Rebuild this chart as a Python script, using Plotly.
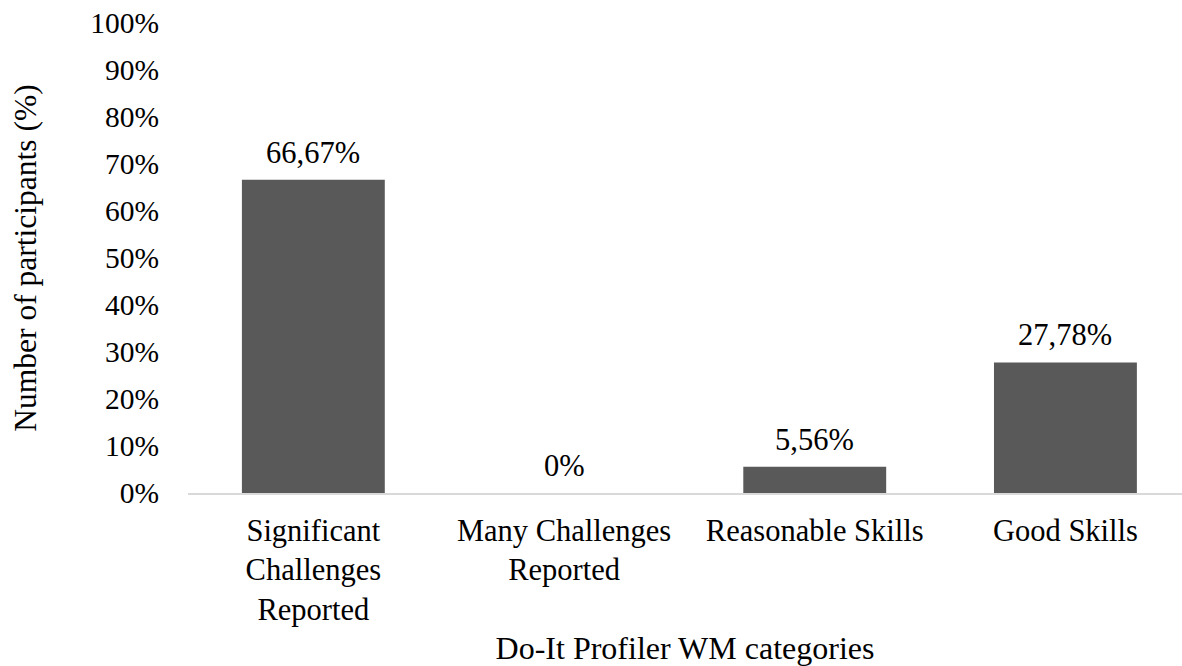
import plotly.graph_objects as go

categories = ["Significant<br>Challenges<br>Reported", "Many Challenges<br>Reported",
              "Reasonable Skills", "Good Skills"]
values = [66.67, 0, 5.56, 27.78]
y_ticks = list(range(0, 101, 10))
y_tick_labels = [f"{t}%" for t in y_ticks]

def fmt(v):
    if v == 0:
        return "0%"
    return f"{v:.2f}".replace(".", ",") + "%"

FONT = "Liberation Serif, Times New Roman, serif"

fig = go.Figure()
fig.add_trace(go.Bar(
    x=list(range(len(categories))),
    y=values,
    marker=dict(color="#595959", line=dict(width=0)),
    width=0.57,
    hoverinfo="skip",
))

for i, v in enumerate(values):
    fig.add_annotation(x=i, y=v, text=fmt(v), showarrow=False,
                       yanchor="bottom", xanchor="center", yshift=8,
                       font=dict(family=FONT, size=30.5, color="#000000"))

fig.update_layout(
    width=1182, height=666,
    margin=dict(l=188, r=0, t=23, b=173),
    paper_bgcolor="white", plot_bgcolor="white",
    showlegend=False,
    font=dict(family=FONT, size=30, color="#000000"),
    bargap=0.43,
)
fig.update_xaxes(
    range=[-0.5, 3.465],
    tickmode="array",
    tickvals=list(range(len(categories))),
    ticktext=categories,
    showgrid=False, zeroline=False,
    showline=True, linecolor="#d9d9d9", linewidth=2,
    ticks="", ticklabelstandoff=9,
    tickfont=dict(family=FONT, size=30.5, color="#000000"),
    title=dict(text="Do-It Profiler WM categories", standoff=17,
               font=dict(family=FONT, size=32, color="#000000")),
)
fig.update_yaxes(
    range=[0, 100],
    tickmode="array",
    tickvals=y_ticks,
    ticktext=y_tick_labels,
    showgrid=False, zeroline=False, showline=False,
    ticks="", ticklabelstandoff=28,
    tickfont=dict(family=FONT, size=29.5, color="#000000"),
    title=dict(text="Number of participants (%)", standoff=44,
               font=dict(family=FONT, size=31.5, color="#000000")),
)

fig.write_html("out.html")
